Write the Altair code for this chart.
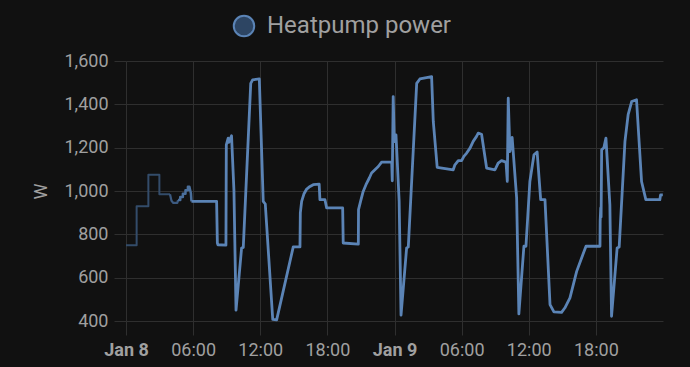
import altair as alt
import pandas as pd

# ---- data (local time) ----
times = [
    "2024-01-08T00:00", "2024-01-08T00:57", "2024-01-08T00:57", "2024-01-08T02:00",
    "2024-01-08T02:00", "2024-01-08T02:59", "2024-01-08T02:59", "2024-01-08T03:56",
    "2024-01-08T04:04", "2024-01-08T04:14", "2024-01-08T04:35", "2024-01-08T04:39",
    "2024-01-08T04:51", "2024-01-08T04:51", "2024-01-08T05:05", "2024-01-08T05:05",
    "2024-01-08T05:19", "2024-01-08T05:19", "2024-01-08T05:32", "2024-01-08T05:32",
    "2024-01-08T05:40", "2024-01-08T05:48", "2024-01-08T05:51", "2024-01-08T08:06",
    "2024-01-08T08:10", "2024-01-08T08:13", "2024-01-08T08:56", "2024-01-08T08:58",
    "2024-01-08T09:08", "2024-01-08T09:12", "2024-01-08T09:26", "2024-01-08T09:39",
    "2024-01-08T09:50", "2024-01-08T10:20", "2024-01-08T10:29", "2024-01-08T11:09",
    "2024-01-08T11:19", "2024-01-08T11:55", "2024-01-08T12:16", "2024-01-08T12:27",
    "2024-01-08T13:07", "2024-01-08T13:28", "2024-01-08T14:57", "2024-01-08T15:33",
    "2024-01-08T15:35", "2024-01-08T15:42", "2024-01-08T15:54", "2024-01-08T16:09",
    "2024-01-08T16:27", "2024-01-08T16:44", "2024-01-08T17:16", "2024-01-08T17:20",
    "2024-01-08T17:47", "2024-01-08T17:56", "2024-01-08T19:22", "2024-01-08T19:25",
    "2024-01-08T20:46", "2024-01-08T20:47", "2024-01-08T20:58", "2024-01-08T21:12",
    "2024-01-08T21:27", "2024-01-08T21:45", "2024-01-08T21:57", "2024-01-08T22:15",
    "2024-01-08T22:33", "2024-01-08T22:51", "2024-01-08T23:45", "2024-01-08T23:48",
    "2024-01-08T23:53", "2024-01-08T23:59", "2024-01-09T00:08", "2024-01-09T00:25",
    "2024-01-09T00:35", "2024-01-09T01:05", "2024-01-09T01:14", "2024-01-09T01:59",
    "2024-01-09T02:16", "2024-01-09T02:52", "2024-01-09T03:19", "2024-01-09T03:28",
    "2024-01-09T03:49", "2024-01-09T05:15", "2024-01-09T05:24", "2024-01-09T05:42",
    "2024-01-09T06:00", "2024-01-09T06:12", "2024-01-09T06:27", "2024-01-09T06:45",
    "2024-01-09T07:02", "2024-01-09T07:20", "2024-01-09T07:29", "2024-01-09T07:47",
    "2024-01-09T08:14", "2024-01-09T08:59", "2024-01-09T09:16", "2024-01-09T09:34",
    "2024-01-09T09:58", "2024-01-09T10:05", "2024-01-09T10:10", "2024-01-09T10:19",
    "2024-01-09T10:31", "2024-01-09T10:55", "2024-01-09T11:07", "2024-01-09T11:34",
    "2024-01-09T11:45", "2024-01-09T12:06", "2024-01-09T12:28", "2024-01-09T12:45",
    "2024-01-09T13:04", "2024-01-09T13:27", "2024-01-09T13:54", "2024-01-09T14:15",
    "2024-01-09T14:56", "2024-01-09T15:14", "2024-01-09T15:41", "2024-01-09T16:17",
    "2024-01-09T16:43", "2024-01-09T17:07", "2024-01-09T18:22", "2024-01-09T18:23",
    "2024-01-09T18:26", "2024-01-09T18:28", "2024-01-09T18:31", "2024-01-09T18:43",
    "2024-01-09T18:54", "2024-01-09T19:15", "2024-01-09T19:24", "2024-01-09T19:54",
    "2024-01-09T20:05", "2024-01-09T20:36", "2024-01-09T20:53", "2024-01-09T21:12",
    "2024-01-09T21:38", "2024-01-09T22:05", "2024-01-09T22:28", "2024-01-09T23:43",
    "2024-01-09T23:47", "2024-01-09T23:59",
]
watts = [
    750, 750, 930, 930,
    1075, 1075, 985, 985,
    955, 945, 945, 958,
    958, 972, 972, 987,
    987, 1003, 1003, 1020,
    1020, 990, 952, 952,
    760, 752, 750, 1213,
    1244, 1225, 1255, 1000,
    450, 737, 740, 1497,
    1513, 1517, 952, 940,
    407, 405, 742, 742,
    899, 952, 986, 1009,
    1021, 1029, 1032, 960,
    960, 922, 922, 760,
    755, 914, 952, 998,
    1029, 1060, 1083, 1098,
    1113, 1133, 1133, 1047,
    1436, 1228, 1259, 952,
    427, 737, 742, 1497,
    1517, 1523, 1528, 1321,
    1109, 1098, 1121, 1140,
    1140, 1160, 1175, 1198,
    1229, 1252, 1267, 1262,
    1106, 1098, 1129, 1140,
    1133, 1044, 1428, 1182,
    1247, 968, 433, 745,
    745, 1044, 1167, 1180,
    960, 960, 476, 442,
    440, 461, 507, 629,
    690, 745, 745, 860,
    922, 880, 1190, 1200,
    1244, 937, 422, 737,
    742, 1229, 1352, 1413,
    1421, 1044, 960, 960,
    982, 982,
]
series_name = "Heatpump power"
y_ticks = [400, 600, 800, 1000, 1200, 1400, 1600]
x_tick_hours = [(8, 0), (8, 6), (8, 12), (8, 18), (9, 0), (9, 6), (9, 12), (9, 18)]

# the older part of the line fades in: (first index, last index, colour, width)
fade_parts = [
    (0, 7, "#334c6a", 2.0),
    (7, 11, "#3c5a80", 2.2),
    (11, 22, "#4a6f9c", 2.5),
    (22, len(times) - 1, "#5b84b6", 2.8),
]

LINE = "#5b84b6"
FILL = "#2d4563"
GRID = "#2f2f2f"
TXT = "#a0a0a0"

df = pd.DataFrame({"t": times, "W": watts, "i": range(len(times))})
legend_df = pd.DataFrame({"series": [series_name], "t": [times[0]], "W": [0]})

x_vals = [alt.DateTime(year=2024, month=1, date=d, hours=h) for d, h in x_tick_hours]
x_scale = alt.Scale(domain=[alt.DateTime(year=2024, month=1, date=8, hours=0),
                            alt.DateTime(year=2024, month=1, date=10, hours=0)])
y_scale = alt.Scale(domain=[400, 1600], nice=False, zero=False)

x_axis = alt.Axis(
    title=None, values=x_vals, grid=True, domain=False, tickSize=14, labelPadding=6,
    labelFlush=False,
    labelExpr="hours(datum.value) === 0 ? timeFormat(datum.value, '%b %-d') : timeFormat(datum.value, '%H:%M')",
    labelFontWeight={"condition": {"test": "hours(datum.value) === 0", "value": "bold"}, "value": "normal"},
)
y_axis = alt.Axis(
    title="W", values=y_ticks, grid=True, domain=False, tickSize=12, labelPadding=6,
    format=",d", titlePadding=13,
)

X = alt.X("t:T", scale=x_scale, axis=x_axis)
Y = alt.Y("W:Q", scale=y_scale, axis=y_axis)

base = alt.Chart(df)
layers = []
for a, b, col, w in fade_parts:
    layers.append(
        base.transform_filter(f"datum.i >= {a} && datum.i <= {b}")
        .mark_line(color=col, strokeWidth=w, strokeJoin="round")
        .encode(x=X, y=Y, order=alt.Order("i:Q"))
    )

legend_layer = alt.Chart(legend_df).mark_circle(clip=True, opacity=1).encode(
    x=X,
    y=Y,
    color=alt.Color(
        "series:N",
        scale=alt.Scale(domain=[series_name], range=[FILL]),
        legend=alt.Legend(
            title=None, orient="none", legendX=106, legendY=-47,
            symbolType="circle", symbolSize=420, symbolStrokeColor=LINE,
            symbolStrokeWidth=2, symbolOpacity=1, labelLimit=0,
            labelFont="Roboto", labelFontSize=24, labelColor=TXT, labelOffset=11,
        ),
    ),
)

chart = alt.layer(*layers, legend_layer).properties(
    width=537, height=260,
    background="#111111",
    autosize=alt.AutoSizeParams(type="none"),
    padding={"left": 126, "top": 61, "right": 27, "bottom": 46},
).configure_view(stroke=None).configure_axis(
    gridColor=GRID, tickColor=GRID, gridWidth=1, tickWidth=1,
    labelFont="Roboto", labelFontSize=18, labelColor=TXT,
    titleFont="Roboto", titleFontSize=18, titleColor=TXT, titleFontWeight="normal",
)

chart.save("out.html", embed_options={"renderer": "svg", "actions": False})
